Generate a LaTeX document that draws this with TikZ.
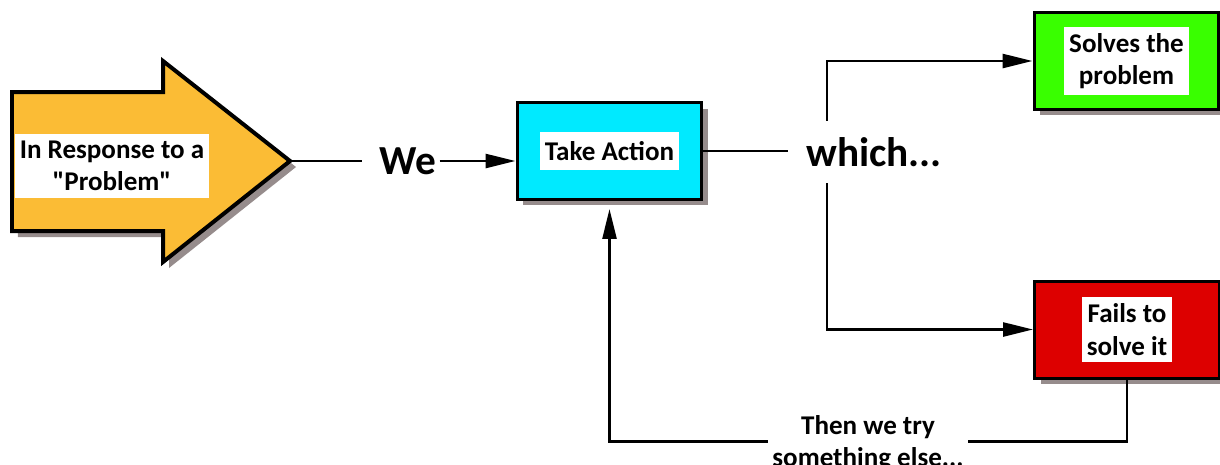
\documentclass[tikz,border=0pt]{standalone}
\usepackage{fontspec}
\setmainfont{Carlito}
\usetikzlibrary{arrows.meta,shadows}
\definecolor{shadowgray}{RGB}{150,140,140}
\definecolor{arrowgold}{RGB}{251,188,53}
\definecolor{actcyan}{RGB}{0,234,255}
\definecolor{okgreen}{RGB}{57,255,0}
\definecolor{badred}{RGB}{221,0,0}
\begin{document}
\begin{tikzpicture}[x=0.02cm,y=-0.02cm,
		every node/.style={font=\bfseries\fontsize{15.4}{18.4}\selectfont},
		shade/.style={general shadow={fill=shadowgray,shadow xshift=0.12cm,shadow yshift=-0.12cm}},
		box/.style={draw,shade,line width=0.06cm,minimum width=3.7cm,minimum height=1.94cm},
		lbl/.style={fill=white,align=center,inner xsep=0.1cm,inner ysep=0.13cm},
		big/.style={font=\bfseries\fontsize{23.5}{27}\selectfont},
		conn/.style={line width=0.05cm},
		arr/.style={conn,-{Triangle[length=0.6cm,width=0.28cm]}}]
			\useasboundingbox (0,0) rectangle (1220,464);
			\draw[shade,line width=0.08cm,fill=arrowgold,line join=miter] (12,92) -- (163,92) -- (163,61) -- (290,161) -- (163,262) -- (163,231) -- (12,231) -- cycle;
			\coordinate (tip) at (290,161);
			\node[lbl] (resp) at (112,166) {In Response to a\\\textquotedbl Problem\textquotedbl};
			\node[big,inner xsep=0.06cm] (we) at (408,161) {We};
			\node[box,fill=actcyan] (act) at (609.5,151) {};
			\node[lbl,inner ysep=0.19cm] (actlbl) at (act) {Take Action};
			\node[big,anchor=west,inner xsep=0.36cm,minimum height=1.24cm] (which) at (788,152) {which...};
			\coordinate (split) at (827,152);
			\node[box,fill=okgreen] (solve) at (1126.5,61) {};
			\node[lbl] (solvelbl) at (solve) {Solves the\\problem};
			\node[box,fill=badred] (fail) at (1127,329.5) {};
			\node[lbl] (faillbl) at (fail) {Fails to\\solve it};
			\draw[conn,shorten >=0.28cm] (tip) -- (we.west);
			\draw[arr] (we.east) -- (we.east -| act.west);
			\draw[conn] (act.east) -- (act.east -| which.west);
			\draw[arr] (split |- which.north) |- (solve.west);
			\draw[arr] (split |- which.south) |- (fail.west);
			\draw[arr,shorten >=0.16cm] (fail.south) -- ++(0,62) -| (act.south);
			\node[lbl,inner xsep=0.08cm,inner ysep=0.05cm] (retry) at (868,443) {Then we try\\something else...};
		\end{tikzpicture}
\end{document}
